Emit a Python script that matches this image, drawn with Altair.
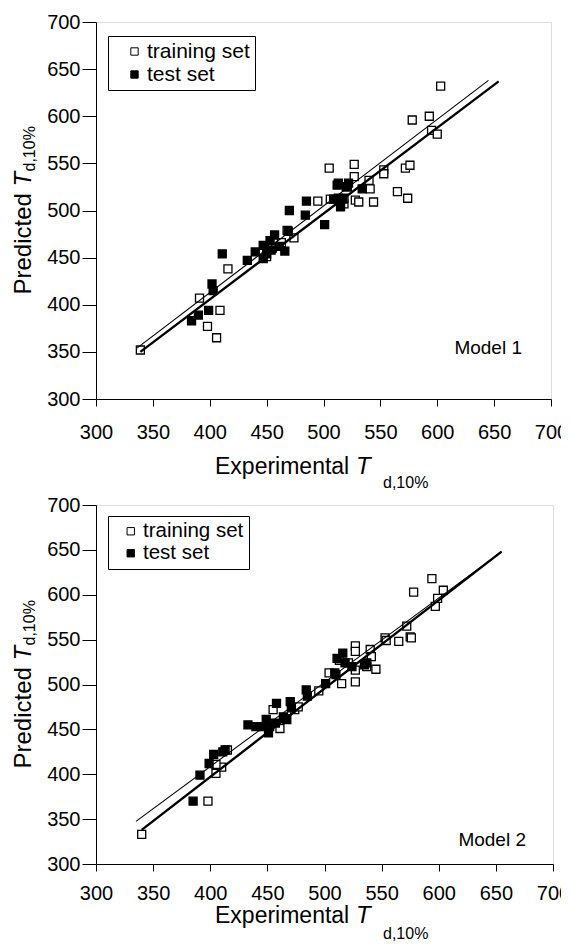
import altair as alt
import pandas as pd

FONT = "Liberation Sans"

# ---------------- Model 1 ----------------
m1_train_x = [339, 391, 409, 398, 406, 416, 468, 474, 450, 495, 505, 506, 527, 527, 528, 531, 518, 540, 541, 544,
              553, 553, 565, 572, 576, 574, 578, 593, 595, 600, 603, 518, 521, 455, 463]
m1_train_y = [352, 407, 394, 377, 365, 438, 479, 471, 451, 510, 545, 512, 549, 536, 511, 509, 507, 532, 523, 509,
              543, 539, 520, 545, 548, 513, 596, 600, 585, 581, 632, 513, 525, 460, 466]
m1_test_x = [384, 390, 399, 402, 403, 411, 433, 440, 447, 447, 453, 457, 454, 450, 466, 470, 469, 484, 485, 501,
             512, 513, 515, 513, 509, 522, 520, 534, 517, 461]
m1_test_y = [383, 389, 394, 422, 415, 454, 447, 456, 463, 449, 468, 474, 458, 454, 457, 500, 478, 495, 510, 485,
             527, 529, 504, 513, 512, 529, 525, 523, 512, 462]
m1_thin_x = [336, 645]
m1_thin_y = [354, 638]
m1_thick_x = [339, 654]
m1_thick_y = [350, 637]

# ---------------- Model 2 ----------------
m2_train_x = [340, 398, 405, 410, 415, 405, 461, 455, 474, 477, 495, 504, 515, 527, 527, 527, 527, 540, 541, 545,
              553, 554, 565, 572, 575, 576, 578, 594, 597, 599, 604, 521, 513, 537, 465]
m2_train_y = [333, 370, 401, 408, 427, 411, 451, 472, 472, 475, 493, 513, 501, 503, 543, 537, 516, 539, 531, 517,
              552, 549, 548, 565, 553, 552, 603, 618, 587, 596, 605, 524, 527, 520, 462]
m2_test_x = [385, 391, 399, 403, 411, 413, 433, 440, 446, 449, 451, 452, 457, 458, 464, 467, 470, 471, 484, 485,
             501, 509, 511, 516, 518, 524, 535, 510, 537]
m2_test_y = [370, 399, 412, 422, 425, 427, 455, 453, 453, 461, 446, 453, 457, 479, 464, 461, 481, 474, 494, 487,
             501, 513, 529, 535, 524, 520, 522, 511, 524]
m2_thin_x = [335, 655]
m2_thin_y = [347.5, 648]
m2_thick_x = [340, 655]
m2_thick_y = [338, 648]

set_names = ["training set", "test set"]
ticks = [300, 350, 400, 450, 500, 550, 600, 650, 700]


def text_layer(txt, x, y, size, italic=False, angle=0, align="left"):
    df = pd.DataFrame({"t": [txt]})
    kw = dict(font=FONT, fontSize=size, align=align, baseline="alphabetic", color="black")
    if italic:
        kw["fontStyle"] = "italic"
    if angle:
        kw["angle"] = angle
    return alt.Chart(df).mark_text(**kw).encode(x=alt.value(x), y=alt.value(y), text="t:N")


def panel(tr_x, tr_y, te_x, te_y, thin_x, thin_y, thick_x, thick_y, model,
          w, h, xpad, xt_base, sub_drop, lx, ly, lfs, sym_off, model_x, model_y):
    pts = pd.DataFrame({
        "x": tr_x + te_x,
        "y": tr_y + te_y,
        "set": [set_names[0]] * len(tr_x) + [set_names[1]] * len(te_x),
    })
    xs = alt.Scale(domain=[300, 700], nice=False, zero=False)
    ys = alt.Scale(domain=[300, 700], nice=False, zero=False)
    xax = alt.Axis(values=ticks, grid=False, labelFlush=False, tickSize=7, labelPadding=xpad,
                   labelFontSize=20, labelFont=FONT, labelColor="black", domainColor="black",
                   tickColor="black", title=None)
    yax = alt.Axis(values=ticks, grid=False, labelFlush=False, tickSize=14, labelPadding=2,
                   labelFontSize=20, labelFont=FONT, labelColor="black", domainColor="black",
                   tickColor="black", title=None)
    points = alt.Chart(pts).mark_point(shape="square", filled=True, size=64, stroke="black",
                                       strokeWidth=1.3, opacity=1).encode(
        x=alt.X("x:Q", scale=xs, axis=xax),
        y=alt.Y("y:Q", scale=ys, axis=yax),
        fill=alt.Fill("set:N", scale=alt.Scale(domain=set_names, range=["white", "black"]),
                      legend=alt.Legend(orient="none", legendX=lx, legendY=ly, title=None,
                                        strokeColor="black", fillColor="white", padding=5,
                                        symbolOffset=sym_off, labelFontSize=lfs, labelFont=FONT,
                                        labelColor="black", symbolType="square", symbolSize=54,
                                        symbolStrokeColor="black", symbolStrokeWidth=1,
                                        rowPadding=1, labelOffset=2)),
    )
    thin = alt.Chart(pd.DataFrame({"x": thin_x, "y": thin_y})).mark_line(
        color="black", strokeWidth=1.1).encode(x="x:Q", y="y:Q")
    thick = alt.Chart(pd.DataFrame({"x": thick_x, "y": thick_y})).mark_line(
        color="black", strokeWidth=2.4).encode(x="x:Q", y="y:Q")
    cy = h / 2
    layers = [
        points, thin, thick,
        text_layer(model, model_x, model_y, 19, align="right"),
        text_layer("Experimental", 119, xt_base, 23),
        text_layer("T", 260, xt_base, 24, italic=True),
        text_layer("d,10%", 287, xt_base + sub_drop, 16),
        text_layer("Predicted", -65, cy + 84, 24, angle=270),
        text_layer("T", -65, cy + 84 - 108, 24, italic=True, angle=270),
        text_layer("d,10%", -61, cy + 84 - 123, 16, angle=270),
    ]
    return alt.layer(*layers).properties(width=w, height=h)


p1 = panel(m1_train_x, m1_train_y, m1_test_x, m1_test_y, m1_thin_x, m1_thin_y, m1_thick_x, m1_thick_y,
           "Model 1", 455, 377, 16.5, 452, 14, 12, 14, 21, 11, 426, 332)
p2 = panel(m2_train_x, m2_train_y, m2_test_x, m2_test_y, m2_thin_x, m2_thin_y, m2_thick_x, m2_thick_y,
           "Model 2", 457, 359, 12, 418, 16, 12, 11, 20.5, 7.5, 430, 341)

chart = alt.vconcat(p1, p2, spacing=2).resolve_scale(fill="independent").resolve_legend(
    fill="independent").properties(padding={"left": 3, "top": 3, "right": -10, "bottom": 0}).configure_view(
    stroke="black", strokeWidth=1).configure(background="white")

chart.save("out.html", embed_options={"renderer": "svg", "actions": False})
